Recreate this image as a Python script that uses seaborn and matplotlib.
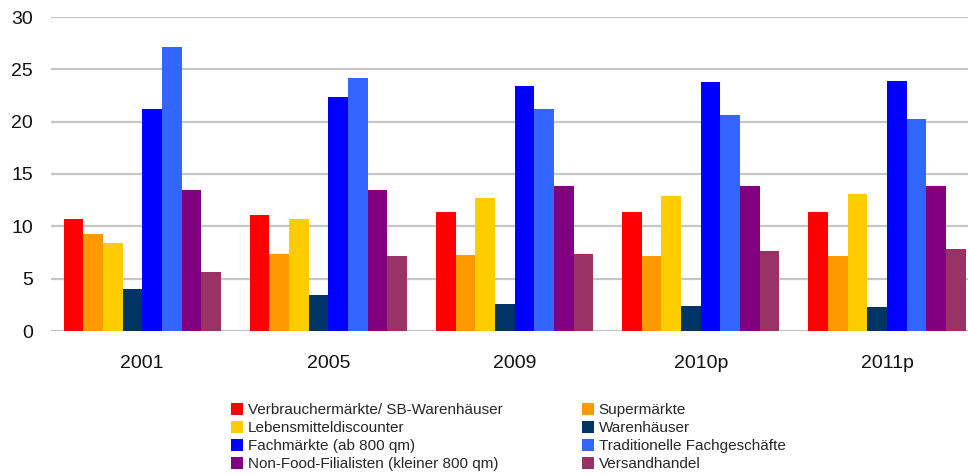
import matplotlib
matplotlib.use("Agg")
import matplotlib.pyplot as plt
import seaborn as sns
import pandas as pd
from matplotlib.patches import Patch

# Marktanteile nach Betriebsformen (in %)
years = ["2001", "2005", "2009", "2010p", "2011p"]
formats = [
    "Verbrauchermärkte/ SB-Warenhäuser",
    "Supermärkte",
    "Lebensmitteldiscounter",
    "Warenhäuser",
    "Fachmärkte (ab 800 qm)",
    "Traditionelle Fachgeschäfte",
    "Non-Food-Filialisten (kleiner 800 qm)",
    "Versandhandel",
]
verbrauchermaerkte = [10.7, 11.1, 11.4, 11.4, 11.4]
supermaerkte = [9.3, 7.4, 7.3, 7.2, 7.2]
discounter = [8.4, 10.7, 12.7, 12.9, 13.1]
warenhaeuser = [4.0, 3.4, 2.6, 2.4, 2.3]
fachmaerkte = [21.2, 22.4, 23.4, 23.8, 23.9]
fachgeschaefte = [27.1, 24.2, 21.2, 20.6, 20.3]
filialisten = [13.5, 13.5, 13.9, 13.9, 13.9]
versandhandel = [5.6, 7.2, 7.4, 7.6, 7.8]

colors = ["#FF0000", "#FF9900", "#FFCC00", "#003366",
          "#0000FF", "#3366FF", "#800080", "#993366"]

series = [verbrauchermaerkte, supermaerkte, discounter, warenhaeuser,
          fachmaerkte, fachgeschaefte, filialisten, versandhandel]
rows = []
for name, vals in zip(formats, series):
    for y, v in zip(years, vals):
        rows.append({"Jahr": y, "Betriebsform": name, "Anteil": v})
df = pd.DataFrame(rows)

sns.set_style("white")
plt.rcParams["font.family"] = ["Liberation Sans", "DejaVu Sans"]

fig = plt.figure(figsize=(9.68, 4.75), dpi=100)
ax = fig.add_axes([51 / 968, 144 / 475, 917 / 968, 314 / 475])

sns.barplot(data=df, x="Jahr", y="Anteil", hue="Betriebsform",
            hue_order=formats, order=years, palette=colors,
            width=0.845, gap=0, saturation=1, linewidth=0,
            legend=False, ax=ax, zorder=3)

ax.set_ylim(0, 30)
ax.set_yticks([0, 5, 10, 15, 20, 25, 30])
ax.set_xlim(-0.49, 4.435)
ax.set_xlabel("")
ax.set_ylabel("")
ax.grid(axis="y", color="#c6c6c6", linewidth=1.6, zorder=0)
ax.grid(axis="x", visible=False)
for s in ax.spines.values():
    s.set_visible(False)
ax.tick_params(axis="y", length=0, pad=13, labelsize=14, labelcolor="#111111")
ax.tick_params(axis="x", length=0, pad=17, labelsize=14, labelcolor="#111111")

# Legend in two columns, filled row by row
handles = [Patch(facecolor=c, edgecolor="none") for c in colors]
order = [0, 2, 4, 6, 1, 3, 5, 7]
fig.legend([handles[i] for i in order], [formats[i] for i in order],
           ncol=2, loc="upper left", bbox_to_anchor=(231 / 968, 1 - 403 / 475),
           frameon=False, fontsize=11, handlelength=0.8, handleheight=0.8,
           handletextpad=0.3, labelspacing=0.25, columnspacing=5.2,
           borderpad=0, borderaxespad=0)

fig.savefig("out.png", dpi=100)
